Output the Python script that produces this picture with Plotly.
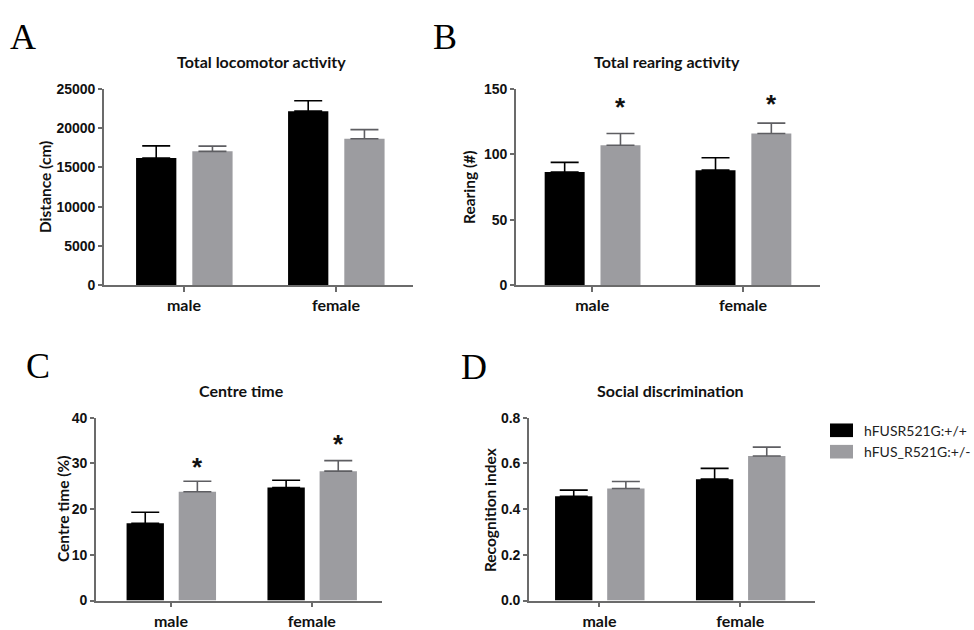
import plotly.graph_objects as go

W, H = 974, 630

# ---- data -------------------------------------------------------------
sexes = ["male", "female"]
genotypes = ["hFUSR521G:+/+", "hFUS_R521G:+/-"]

loco_wt = [16200, 22150]
loco_wt_sem = [1530, 1320]
loco_het = [17040, 18650]
loco_het_sem = [660, 1150]

rear_wt = [86.4, 87.9]
rear_wt_sem = [7.4, 9.4]
rear_het = [106.9, 115.8]
rear_het_sem = [8.9, 8.0]

centre_wt = [16.9, 24.7]
centre_wt_sem = [2.4, 1.6]
centre_het = [23.8, 28.3]
centre_het_sem = [2.3, 2.3]

social_wt = [0.456, 0.531]
social_wt_sem = [0.027, 0.047]
social_het = [0.490, 0.632]
social_het_sem = [0.031, 0.039]

# significance markers over the heterozygous bars (height in axis units)
rear_star_y = [136, 138]
centre_star_y = [29.2, 34.2]

# ---- styling ----------------------------------------------------------
BLACK = "#000000"
GREY = "#9c9ca0"
AXIS = "#6b6b6b"
BAR_W = 0.265
OFF_WT = -0.315
OFF_HET = 0.055

TICK_FONT = dict(family="Liberation Sans, Arial", size=14, color="#111", weight="bold")
CAT_FONT = dict(family="Lato, Open Sans", size=16, color="#111", weight="bold")
TITLE_FONT = dict(family="Lato, Open Sans", size=16, color="#111", weight="bold")
YLAB_FONT = dict(family="Lato, Open Sans", size=15.5, color="#111", weight="bold")
LETTER_FONT = dict(family="Liberation Serif, DejaVu Serif", size=36, color="#000")
STAR_FONT = dict(family="Liberation Sans, Arial", size=26, color="#111", weight="bold")


def px_x(x):
    return x / W


def px_y(y):
    return 1 - y / H


panels = [
    dict(key="", xs=(104, 413), ys=(83, 285), xr=(-0.526, 1.507), ymax=25000, dtick=5000,
         fmt="d", title="Total locomotor activity", tpos=(261, 55),
         ylab="Distance (cm)", ylx=45, letter="A", lpos=(23, 30),
         wt=loco_wt, wte=loco_wt_sem, het=loco_het, hete=loco_het_sem, stars=None),
    dict(key="2", xs=(516, 820), ys=(83, 285), xr=(-0.505, 1.51), ymax=150, dtick=50,
         fmt="d", title="Total rearing activity", tpos=(667, 55),
         ylab="Rearing (#)", ylx=469, letter="B", lpos=(445, 30),
         wt=rear_wt, wte=rear_wt_sem, het=rear_het, hete=rear_het_sem, stars=rear_star_y),
    dict(key="3", xs=(96, 382), ys=(421, 609), xr=(-0.532, 1.498), ymax=40, dtick=10,
         fmt="d", title="Centre time", tpos=(241, 393),
         ylab="Centre time (%)", ylx=63, letter="C", lpos=(38, 368),
         wt=centre_wt, wte=centre_wt_sem, het=centre_het, hete=centre_het_sem,
         stars=centre_star_y),
    dict(key="4", xs=(529, 815), ys=(421, 609), xr=(-0.5, 1.53), ymax=0.8, dtick=0.2,
         fmt=".1f", title="Social discrimination", tpos=(670, 393),
         ylab="Recognition index", ylx=490, letter="D", lpos=(474, 369),
         wt=social_wt, wte=social_wt_sem, het=social_het, hete=social_het_sem, stars=None),
]

fig = go.Figure()
annotations = []
shapes = []
layout_axes = {}

xpos = list(range(len(sexes)))

for p in panels:
    k = p["key"]
    xa, ya = "x" + k, "y" + k
    for vals, errs, off, col, ecol, name in [
        (p["wt"], p["wte"], OFF_WT, BLACK, BLACK, genotypes[0]),
        (p["het"], p["hete"], OFF_HET, GREY, "#5e5e62", genotypes[1]),
    ]:
        fig.add_trace(go.Bar(
            x=xpos, y=vals, width=BAR_W, offset=off,
            marker=dict(color=col, line=dict(width=0)),
            error_y=dict(type="data", symmetric=False, array=errs,
                         arrayminus=[0] * len(errs), color=ecol,
                         thickness=1.6, width=14),
            name=name, showlegend=False, xaxis=xa, yaxis=ya,
        ))

    y_top, y_bot = p["ys"]
    layout_axes["xaxis" + k] = dict(
        domain=[px_x(p["xs"][0]), px_x(p["xs"][1])], range=list(p["xr"]),
        anchor=ya, tickmode="array", tickvals=xpos, ticktext=sexes,
        ticks="outside", ticklen=5, tickwidth=1.5, tickcolor=AXIS,
        showline=True, linecolor=AXIS, linewidth=1.6,
        showgrid=False, zeroline=False, tickfont=CAT_FONT, fixedrange=True,
    )
    layout_axes["yaxis" + k] = dict(
        domain=[px_y(y_bot), px_y(y_top)], range=[0, p["ymax"]],
        anchor=xa, dtick=p["dtick"], tick0=0, tickformat=p["fmt"],
        ticks="outside", ticklen=4, tickwidth=1.5, tickcolor=AXIS,
        showline=True, linecolor=AXIS, linewidth=1.6,
        showgrid=False, zeroline=False, tickfont=TICK_FONT, fixedrange=True,
    )

    annotations.append(dict(text=p["title"], x=px_x(p["tpos"][0]), y=px_y(p["tpos"][1]),
                            xref="paper", yref="paper", xanchor="center", yanchor="middle",
                            showarrow=False, font=TITLE_FONT))
    annotations.append(dict(text=p["ylab"], x=px_x(p["ylx"]), y=px_y((y_top + y_bot) / 2),
                            xref="paper", yref="paper", xanchor="center", yanchor="middle",
                            textangle=-90, showarrow=False, font=YLAB_FONT))
    annotations.append(dict(text=p["letter"], x=px_x(p["lpos"][0]), y=px_y(p["lpos"][1]),
                            xref="paper", yref="paper", xanchor="center", yanchor="middle",
                            showarrow=False, font=LETTER_FONT))
    if p["stars"]:
        for i, sy in enumerate(p["stars"]):
            annotations.append(dict(
                text="*", x=i + OFF_HET + BAR_W / 2, y=sy,
                xref=xa, yref=ya, xanchor="center", yanchor="middle",
                showarrow=False, font=STAR_FONT))

# legend beside panel D
leg_items = [(genotypes[0], BLACK, 434), (genotypes[1], GREY, 456)]
for label, col, yc in leg_items:
    shapes.append(dict(type="rect", xref="paper", yref="paper",
                       x0=px_x(830), x1=px_x(853), y0=px_y(yc + 7), y1=px_y(yc - 7),
                       fillcolor=col, line=dict(width=0)))
    annotations.append(dict(text=label, x=px_x(862), y=px_y(yc), xref="paper", yref="paper",
                            xanchor="left", yanchor="middle", showarrow=False,
                            font=dict(family="Lato, Open Sans", size=14, color="#222")))

fig.update_layout(
    width=W, height=H, margin=dict(l=0, r=0, t=0, b=0),
    paper_bgcolor="white", plot_bgcolor="white",
    barmode="overlay", showlegend=False,
    annotations=annotations, shapes=shapes,
    **layout_axes,
)

fig.write_html("out.html", config={"displayModeBar": False})
